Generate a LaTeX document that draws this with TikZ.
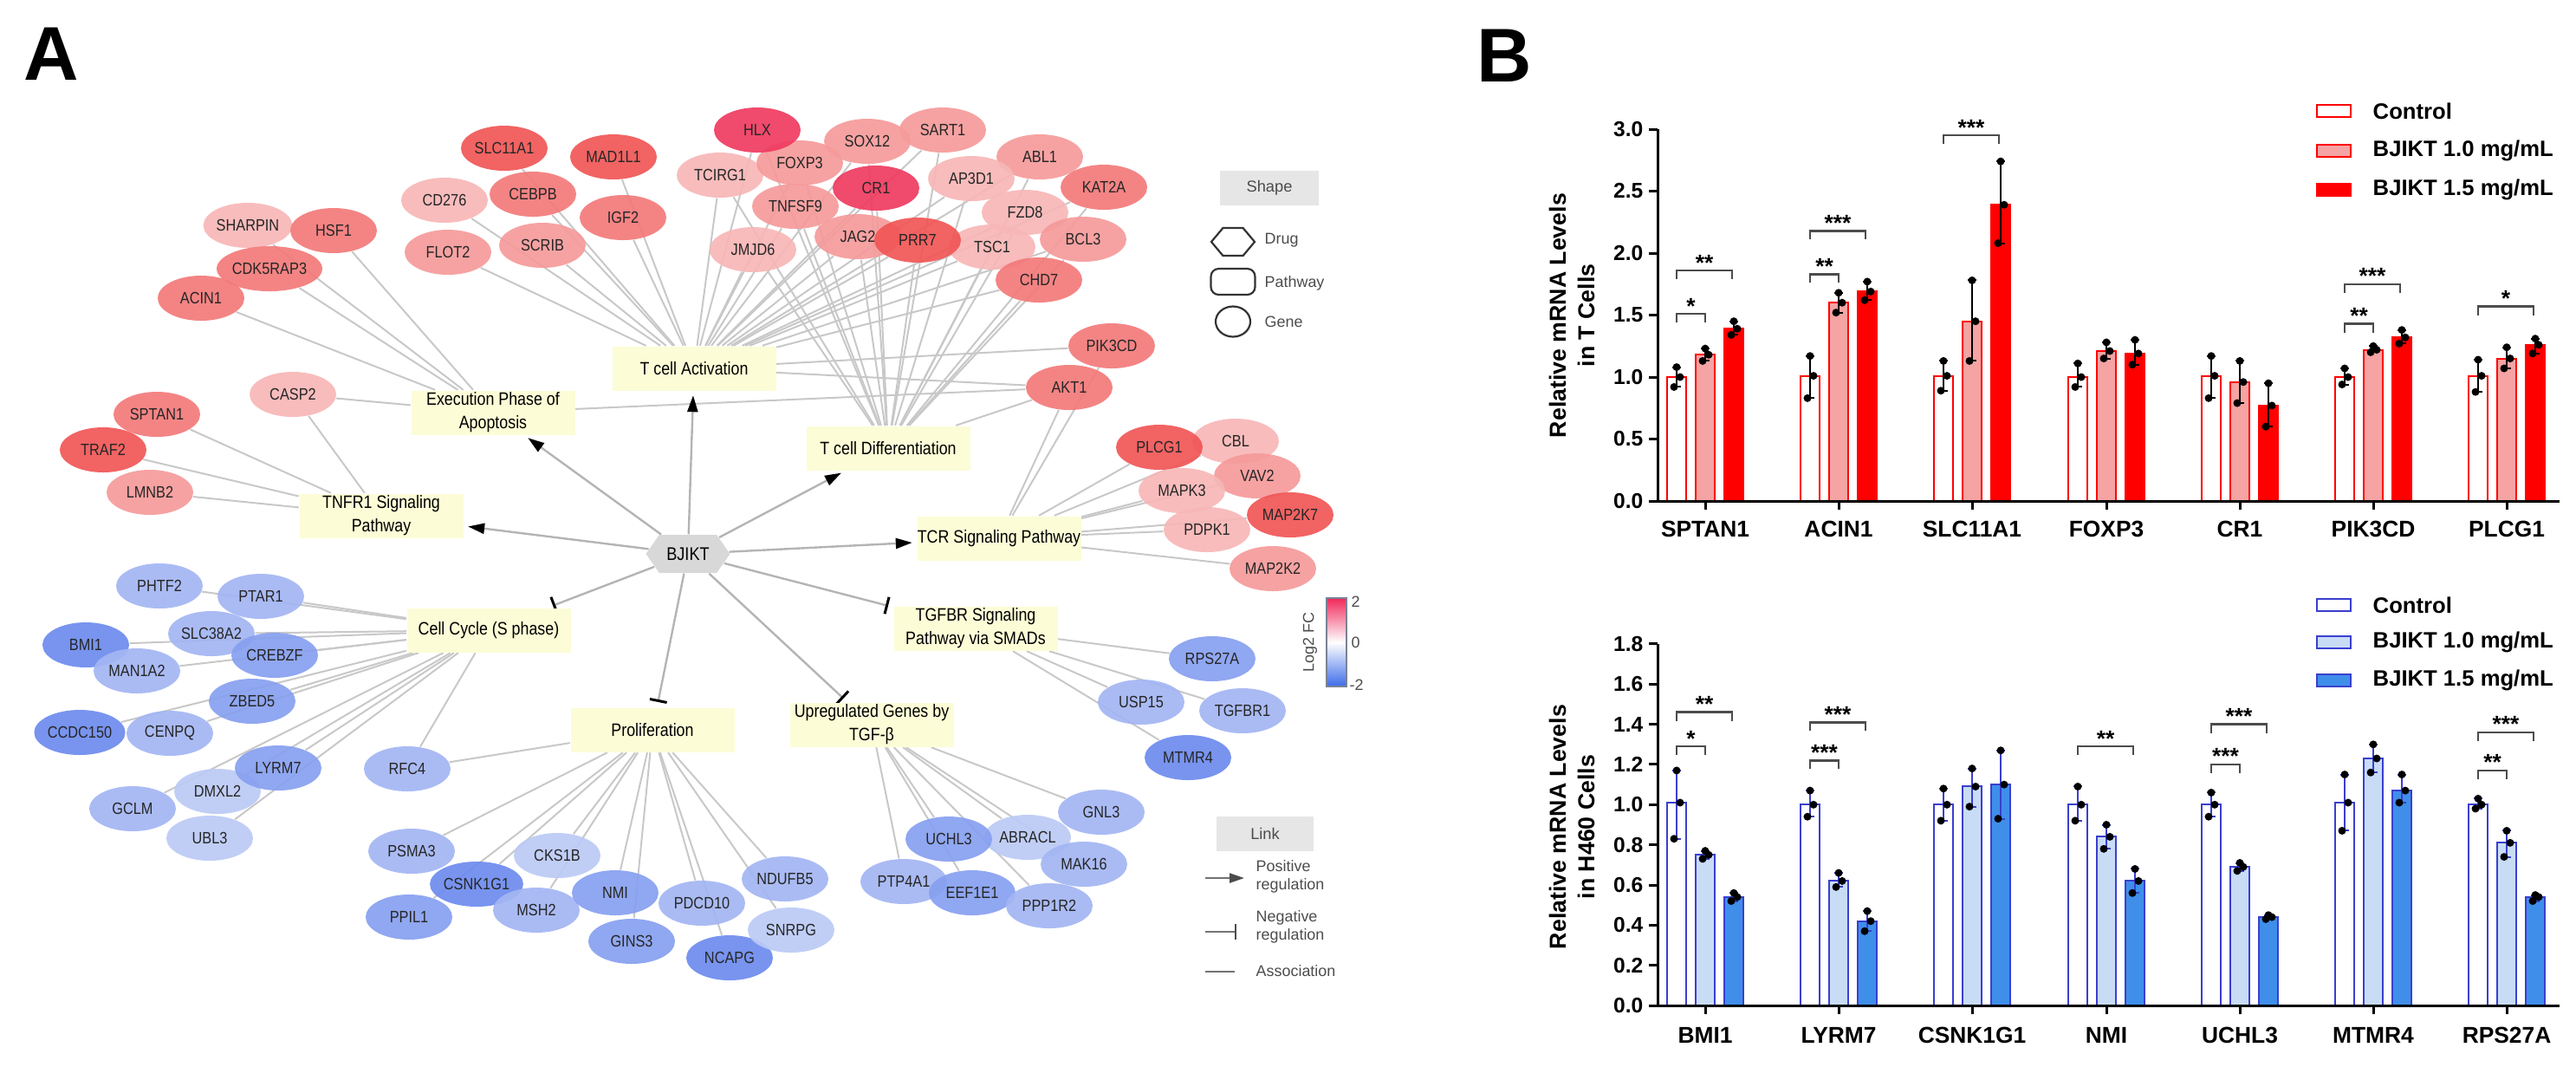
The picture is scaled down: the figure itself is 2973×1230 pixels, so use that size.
\documentclass[tikz,border=0pt]{standalone}
\usepackage{fontspec}
\setmainfont{Liberation Sans}
\newfontfamily\narrowsans[FakeStretch=0.86]{Liberation Sans}
\usetikzlibrary{shapes.geometric, shapes.symbols, arrows.meta}
\pgfdeclarelayer{edges}
\pgfsetlayers{edges,main}

\definecolor{r1}{HTML}{EF3B5F}
\definecolor{r2}{HTML}{F15656}
\definecolor{r3}{HTML}{F37979}
\definecolor{r4}{HTML}{F59A9A}
\definecolor{r5}{HTML}{F7B6B6}
\definecolor{b1}{HTML}{6D8BEE}
\definecolor{b2}{HTML}{87A0F0}
\definecolor{b3}{HTML}{A3B5F3}
\definecolor{b4}{HTML}{BBCAF5}
\definecolor{pathfill}{HTML}{FCFCD7}
\definecolor{druggray}{HTML}{D8D8D8}
\definecolor{boxgray}{HTML}{E6E6E6}
\definecolor{edgegray}{HTML}{C8C8C8}
\definecolor{cbred}{HTML}{F0285A}
\definecolor{cbblue}{HTML}{3D6BE8}
\definecolor{cbframe}{HTML}{7A8294}
\definecolor{lightred}{HTML}{F5A3A3}
\definecolor{barblue}{HTML}{3F8EEA}
\definecolor{lightblue}{HTML}{C8DCF6}
\definecolor{edgeblue}{HTML}{3A3FCF}

\newcommand\qbar[5]{%
  \path[#5] (#1-11,0) rectangle (#1+11,#2);
  \draw[errline] (#1,#3) -- (#1,#4) (#1-5,#3) -- (#1+5,#3) (#1-5,#4) -- (#1+5,#4);
  \fill[black] (#1-3,#3) circle[radius=0.45mm] (#1+4,#2) circle[radius=0.45mm]
    (#1,#4) circle[radius=0.45mm];
}

\begin{document}
\begin{tikzpicture}[
	x=0.1mm, y=-0.1mm,
	gene/.style={
		ellipse, fill opacity=0.92, text opacity=1,
		minimum width=10mm, minimum height=5.2mm, inner sep=0pt,
		text=black!85, font=\narrowsans\fontsize{5.4}{6}\selectfont
	},
	pathway/.style={
		rectangle, fill=pathfill, align=center, inner sep=0pt,
		minimum width=18.9mm, minimum height=5.1mm,
		font=\narrowsans\fontsize{5.9}{7.7}\selectfont
	},
	drug/.style={
		signal, signal to=west and east, signal pointer angle=110,
		fill=druggray, inner sep=0pt,
		minimum width=9.7mm, minimum height=4.4mm,
		font=\narrowsans\fontsize{6}{7}\selectfont
	},
	assoc/.style={draw=edgegray, line width=0.2mm},
	posreg/.style={
		draw=edgegray!90!black, line width=0.24mm, shorten >=0.5mm,
		-{Triangle[length=1.9mm, width=1.2mm, color=black]}
	},
	negreg/.style={
		draw=edgegray!90!black, line width=0.24mm, shorten >=0.6mm,
		-{Bar[width=2mm, line width=0.3mm, color=black]}
	},
	legendbox/.style={
		rectangle, fill=boxgray, inner sep=0pt,
		minimum width=11.4mm, minimum height=4mm,
		text=black!70, font=\fontsize{5.2}{6}\selectfont
	},
	legendtext/.style={
		anchor=west, align=left, inner sep=0pt, text=black!70,
		font=\fontsize{5.1}{5.9}\selectfont
	},
	legendshape/.style={draw=black!80, line width=0.22mm, inner sep=0pt},
	panel/.style={font=\fontsize{25}{25}\selectfont\bfseries},
	axisline/.style={line width=0.3mm},
	ticklabel/.style={anchor=east, inner sep=0pt, font=\fontsize{7}{8}\selectfont\bfseries},
	catlabel/.style={inner sep=0pt, font=\fontsize{7.5}{9}\selectfont\bfseries},
	axistitle/.style={rotate=90, align=center, font=\fontsize{7.6}{9.4}\selectfont\bfseries},
	keytext/.style={anchor=west, inner sep=0pt, font=\fontsize{7.3}{8}\selectfont\bfseries},
	bracket/.style={draw=black!70, line width=0.25mm},
	stars/.style={anchor=base, inner sep=0pt, font=\fontsize{7.5}{8}\selectfont\bfseries}
]
\useasboundingbox (0,0) rectangle (2973,1230);

\node[panel] (labA) at (59,62) {A};
\node[panel] (labB) at (1736,64) {B};

% network
\foreach \n/\x/\y/\c in {
	SHARPIN/286/260/r5, CD276/513/231/r5, SLC11A1/582/171/r2, MAD1L1/708/181/r2,
	CEBPB/615/224/r3, IGF2/719/251/r3, HSF1/385/266/r3, FLOT2/517/291/r4,
	SCRIB/626/283/r4, CDK5RAP3/311/310/r3, ACIN1/232/344/r3,
	TCIRG1/831/202/r5, SOX12/1001/163/r4, SART1/1088/150/r4, FOXP3/923/188/r4,
	HLX/874/150/r1, TNFSF9/918/238/r4, JMJD6/869/288/r5, JAG2/990/273/r4,
	CR1/1011/217/r1, ABL1/1200/181/r4, AP3D1/1121/206/r5, KAT2A/1274/216/r3,
	FZD8/1183/245/r5, BCL3/1250/276/r4, TSC1/1145/285/r5, PRR7/1059/277/r2,
	CHD7/1199/323/r3, PIK3CD/1283/399/r3, AKT1/1234/447/r3,
	CASP2/338/455/r5, SPTAN1/181/478/r3, TRAF2/119/519/r2, LMNB2/173/568/r4,
	CBL/1426/509/r5, PLCG1/1338/516/r2, VAV2/1451/549/r4, MAPK3/1364/566/r5,
	MAP2K7/1489/594/r2, PDPK1/1393/611/r5, MAP2K2/1469/656/r4,
	PHTF2/184/676/b3, PTAR1/301/688/b3, SLC38A2/244/731/b3, BMI1/99/744/b1,
	MAN1A2/158/774/b3, CREBZF/317/756/b2, ZBED5/291/809/b2, CCDC150/92/845/b1,
	CENPQ/196/846/b3, GCLM/153/933/b3, DMXL2/251/913/b4, LYRM7/321/886/b2,
	UBL3/242/967/b4, RFC4/470/887/b3,
	PSMA3/475/982/b3, CKS1B/643/987/b4, CSNK1G1/550/1020/b1, PPIL1/472/1058/b2,
	MSH2/619/1050/b3, NMI/710/1030/b2, GINS3/729/1086/b2, PDCD10/810/1042/b3,
	NCAPG/842/1105/b1, NDUFB5/906/1014/b3, SNRPG/913/1073/b4,
	RPS27A/1399/760/b2, USP15/1317/810/b3, TGFBR1/1434/820/b3, MTMR4/1371/874/b1,
	GNL3/1271/937/b3, ABRACL/1186/966/b4, UCHL3/1095/968/b2, MAK16/1251/997/b3,
	PTP4A1/1043/1017/b3, EEF1E1/1122/1030/b2, PPP1R2/1211/1045/b3}
	\node[gene, fill=\c] (\n) at (\x,\y) {\n};

\node[pathway] (tact) at (801,425) {T cell Activation};
\node[pathway] (exec) at (569,476) {Execution Phase of\\Apoptosis};
\node[pathway] (tnfr) at (440,595) {TNFR1 Signaling\\Pathway};
\node[pathway] (tdiff) at (1025,517) {T cell Differentiation};
\node[pathway] (tcr) at (1153,621) {TCR Signaling Pathway};
\node[pathway] (cycle) at (564,727) {Cell Cycle (S phase)};
\node[pathway] (prolif) at (753,842) {Proliferation};
\node[pathway] (tgfbr) at (1126,725) {TGFBR Signaling\\Pathway via SMADs};
\node[pathway] (upreg) at (1006,836) {Upregulated Genes by\\TGF-β};
\node[drug] (bjikt) at (794,639) {BJIKT};

\begin{pgfonlayer}{edges}
	\foreach \g in {SLC11A1, MAD1L1, CD276, CEBPB, IGF2, FLOT2, SCRIB, TCIRG1,
		HLX, FOXP3, TNFSF9, JMJD6, SOX12, CR1, JAG2, PRR7, SART1, AP3D1, ABL1,
		FZD8, TSC1, KAT2A, BCL3, CHD7, PIK3CD, AKT1}
		\draw[assoc] (\g) -- (tact);
	\foreach \g in {HLX, TCIRG1, JMJD6, FOXP3, TNFSF9, SOX12, CR1, JAG2, PRR7,
		SART1, AP3D1, ABL1, FZD8, TSC1, KAT2A, BCL3, CHD7, AKT1}
		\draw[assoc] (\g) -- (tdiff);
	\foreach \g in {ACIN1, CDK5RAP3, SHARPIN, HSF1, CASP2, AKT1}
		\draw[assoc] (\g) -- (exec);
	\foreach \g in {SPTAN1, TRAF2, LMNB2, CASP2}
		\draw[assoc] (\g) -- (tnfr);
	\foreach \g in {AKT1, PIK3CD, PLCG1, CBL, VAV2, MAPK3, MAP2K7, PDPK1, MAP2K2}
		\draw[assoc] (\g) -- (tcr);
	\foreach \g in {PHTF2, PTAR1, SLC38A2, BMI1, CREBZF, MAN1A2, ZBED5, CCDC150,
		CENPQ, LYRM7, DMXL2, GCLM, UBL3, RFC4}
		\draw[assoc] (\g) -- (cycle);
	\foreach \g in {RFC4, PSMA3, CSNK1G1, PPIL1, CKS1B, MSH2, NMI, GINS3, PDCD10,
		NCAPG, NDUFB5, SNRPG}
		\draw[assoc] (\g) -- (prolif);
	\foreach \g in {RPS27A, USP15, TGFBR1, MTMR4}
		\draw[assoc] (\g) -- (tgfbr);
	\foreach \g in {GNL3, UCHL3, ABRACL, MAK16, PTP4A1, EEF1E1, PPP1R2}
		\draw[assoc] (\g) -- (upreg);
	\foreach \p in {tact, exec, tnfr, tdiff, tcr}
		\draw[posreg] (bjikt) -- (\p);
	\foreach \p in {cycle, prolif, upreg, tgfbr}
		\draw[negreg] (bjikt) -- (\p);
\end{pgfonlayer}

% legends of the network
\node[legendbox] (shapebox) at (1465,217) {Shape};
\node[legendshape, signal, signal to=west and east, signal pointer angle=100,
	minimum width=5mm, minimum height=3.2mm] (keydrug) at (1423,279) {};
\node[legendshape, rectangle, rounded corners=0.9mm,
	minimum width=5.1mm, minimum height=3mm] (keypath) at (1423,325) {};
\node[legendshape, ellipse, minimum width=4mm, minimum height=3.5mm] (keygene) at (1423,371) {};
\node[legendtext] at (1459,277) {Drug};
\node[legendtext] at (1459,327) {Pathway};
\node[legendtext] at (1459,371) {Gene};

\shade[top color=cbred, bottom color=cbblue, middle color=white] (1531,690) rectangle (1554,792);
\draw[cbframe, line width=0.15mm] (1531,690) rectangle (1554,792);
\node[legendtext] at (1559,694) {2};
\node[legendtext] at (1559,741) {0};
\node[legendtext] at (1557,790) {-2};
\node[legendtext, anchor=center, rotate=90] at (1512,741) {Log2 FC};

\node[legendbox, minimum width=11.2mm] (linkbox) at (1460,962) {Link};
\coordinate (posA) at (1391,1013);
\coordinate (posB) at (1436,1013);
\coordinate (negA) at (1391,1075);
\coordinate (negB) at (1427,1075);
\coordinate (asoA) at (1391,1121);
\coordinate (asoB) at (1425,1121);
\draw[draw=black!55, line width=0.22mm, -{Triangle[length=1.7mm, width=1.1mm, color=black!70]}] (posA) -- (posB);
\draw[draw=black!55, line width=0.22mm, -{Bar[width=1.8mm, line width=0.25mm, color=black!70]}] (negA) -- (negB);
\draw[draw=black!55, line width=0.22mm] (asoA) -- (asoB);
\node[legendtext] at (1449,1011) {Positive\\regulation};
\node[legendtext] at (1449,1069) {Negative\\regulation};
\node[legendtext] at (1449,1120) {Association};

% T cells
\begin{scope}[shift={(0,578)}, y=14.3mm,
	errline/.style={line width=0.2mm, black},
	ctrl/.style={draw=red, fill=white, line width=0.2mm},
	lowdose/.style={draw=red, fill=lightred, line width=0.2mm},
	highdose/.style={draw=red, fill=red, line width=0.2mm}]
	\foreach \c/\ma/\la/\ha/\mb/\lb/\hb/\mc/\lc/\hc/\g in {
		1968/1.00/0.92/1.08/1.18/1.13/1.23/1.39/1.34/1.45/SPTAN1,
		2122/1.01/0.83/1.17/1.60/1.52/1.68/1.69/1.62/1.77/ACIN1,
		2276/1.01/0.89/1.13/1.45/1.13/1.78/2.39/2.08/2.74/SLC11A1,
		2431/1.00/0.92/1.11/1.21/1.15/1.28/1.19/1.10/1.30/FOXP3,
		2585/1.01/0.83/1.17/0.96/0.79/1.13/0.77/0.60/0.95/CR1,
		2739/1.00/0.94/1.07/1.22/1.20/1.25/1.32/1.27/1.38/PIK3CD,
		2893/1.01/0.88/1.14/1.15/1.07/1.24/1.26/1.19/1.31/PLCG1}{
		\qbar{\c-33}{\ma}{\la}{\ha}{ctrl}
		\qbar{\c}{\mb}{\lb}{\hb}{lowdose}
		\qbar{\c+33}{\mc}{\lc}{\hc}{highdose}
		\draw[axisline] (\c,0) -- +(0,-1mm);
		\node[catlabel, yshift=-3.2mm] at (\c,0) {\g};
	}
	\draw[axisline] (1913,3) -- (1913,0) -- (2954,0);
	\foreach \t in {0.0,0.5,1.0,1.5,2.0,2.5,3.0}{
		\draw[axisline] (1913,\t) -- +(-1mm,0);
		\node[ticklabel, xshift=-1.6mm] at (1913,\t) {\t};
	}
	\foreach \a/\b/\v/\s in {1935/1968/1.51/*, 1935/1999/1.86/**,
		2089/2122/1.83/**, 2089/2153/2.18/***, 2243/2307/2.95/***,
		2706/2739/1.43/**, 2706/2770/1.75/***, 2860/2924/1.57/*}{
		\draw[bracket] (\a,\v) ++(0,-1mm) -- (\a,\v) -- (\b,\v) -- ++(0,-1mm);
		\node[stars] at ({(\a+\b)/2},\v) {\s};
	}
\end{scope}
\node[axistitle] (ttitle) at (1814,364) {Relative mRNA Levels\\in T Cells};
\draw[draw=red, fill=white, line width=0.2mm] (2674,121) rectangle (2713,135);
\draw[draw=red, fill=lightred, line width=0.2mm] (2674,167) rectangle (2713,181);
\draw[draw=red, fill=red, line width=0.2mm] (2674,212) rectangle (2713,226);
\node[keytext] at (2738,128) {Control};
\node[keytext] at (2738,174) {BJIKT 1.0 mg/mL};
\node[keytext] at (2738,219) {BJIKT 1.5 mg/mL};

% H460 cells
\begin{scope}[shift={(0,1160)}, y=23.17mm,
	errline/.style={line width=0.2mm, edgeblue},
	ctrl/.style={draw=edgeblue, fill=white, line width=0.2mm},
	lowdose/.style={draw=edgeblue, fill=lightblue, line width=0.2mm},
	highdose/.style={draw=edgeblue, fill=barblue, line width=0.2mm}]
	\foreach \c/\ma/\la/\ha/\mb/\lb/\hb/\mc/\lc/\hc/\g in {
		1968/1.01/0.83/1.17/0.75/0.73/0.77/0.54/0.52/0.56/BMI1,
		2122/1.00/0.94/1.07/0.62/0.59/0.66/0.42/0.37/0.47/LYRM7,
		2276/1.00/0.92/1.08/1.09/0.99/1.18/1.10/0.93/1.27/CSNK1G1,
		2431/1.00/0.92/1.09/0.84/0.78/0.90/0.62/0.56/0.68/NMI,
		2585/1.00/0.94/1.06/0.69/0.67/0.71/0.44/0.43/0.45/UCHL3,
		2739/1.01/0.87/1.15/1.23/1.16/1.30/1.07/1.01/1.15/MTMR4,
		2893/1.00/0.98/1.03/0.81/0.74/0.87/0.54/0.52/0.55/RPS27A}{
		\qbar{\c-33}{\ma}{\la}{\ha}{ctrl}
		\qbar{\c}{\mb}{\lb}{\hb}{lowdose}
		\qbar{\c+33}{\mc}{\lc}{\hc}{highdose}
		\draw[axisline] (\c,0) -- +(0,-1mm);
		\node[catlabel, yshift=-3.4mm] at (\c,0) {\g};
	}
	\draw[axisline] (1913,1.8) -- (1913,0) -- (2954,0);
	\foreach \t in {0.0,0.2,0.4,0.6,0.8,1.0,1.2,1.4,1.6,1.8}{
		\draw[axisline] (1913,\t) -- +(-1mm,0);
		\node[ticklabel, xshift=-1.6mm] at (1913,\t) {\t};
	}
	\foreach \a/\b/\v/\s in {1935/1968/1.29/*, 1935/1999/1.46/**,
		2089/2122/1.22/***, 2089/2153/1.41/***, 2398/2462/1.29/**,
		2552/2585/1.20/***, 2552/2616/1.40/***,
		2860/2893/1.17/**, 2860/2924/1.36/***}{
		\draw[bracket] (\a,\v) ++(0,-1mm) -- (\a,\v) -- (\b,\v) -- ++(0,-1mm);
		\node[stars] at ({(\a+\b)/2},\v) {\s};
	}
\end{scope}
\node[axistitle] (htitle) at (1814,954) {Relative mRNA Levels\\in H460 Cells};
\draw[draw=edgeblue, fill=white, line width=0.2mm] (2674,691) rectangle (2713,705);
\draw[draw=edgeblue, fill=lightblue, line width=0.2mm] (2674,734) rectangle (2713,748);
\draw[draw=edgeblue, fill=barblue, line width=0.2mm] (2674,778) rectangle (2713,792);
\node[keytext] at (2738,698) {Control};
\node[keytext] at (2738,741) {BJIKT 1.0 mg/mL};
\node[keytext] at (2738,785) {BJIKT 1.5 mg/mL};
\end{tikzpicture}
\end{document}
